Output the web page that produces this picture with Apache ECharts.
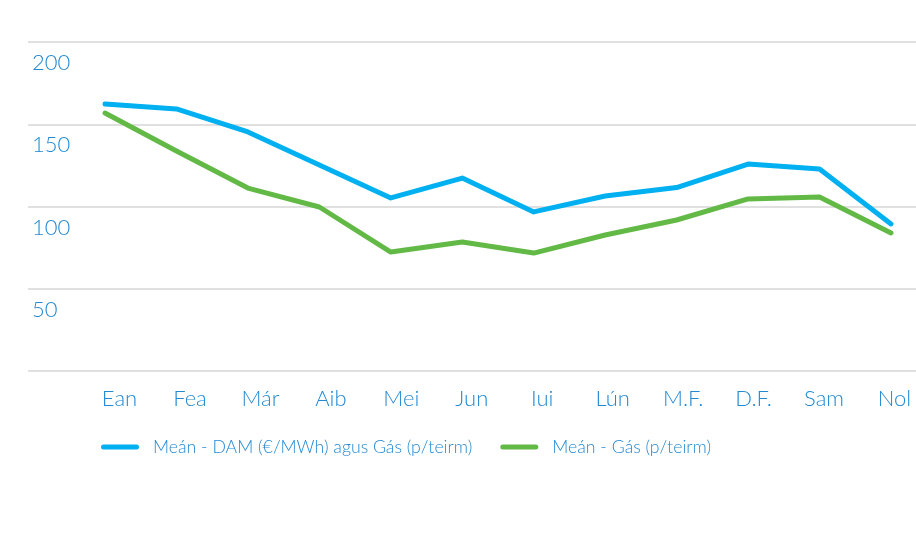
<!DOCTYPE html>
<html>
<head>
<meta charset="utf-8">
<script src="https://cdn.jsdelivr.net/npm/echarts@6/dist/echarts.min.js"></script>
<style>
html,body{margin:0;padding:0;background:#fff;}
#chart{width:916px;height:533px;}
</style>
</head>
<body>
<div id="chart"></div>
<script>
// Data
const months = ['Ean','Fea','Már','Aib','Mei','Jun','Iui','Lún','M.F.','D.F.','Sam','Nol'];
const seriesNames = ['Meán - DAM (€/MWh) agus Gás (p/teirm)', 'Meán - Gás (p/teirm)'];
const damValues = [162.3, 159.3, 145.3, 125.2, 105.2, 117.3, 96.7, 106.4, 111.5, 125.8, 122.8, 89.4];
const gasValues = [156.8, 133.7, 111.2, 99.7, 72.3, 78.4, 71.7, 82.7, 91.8, 104.6, 105.8, 83.9];
const yTicks = [0, 50, 100, 150, 200];

const labelColor = '#2289d2';
const fontFamily = 'Lato, "Liberation Sans", sans-serif';

const chart = echarts.init(document.getElementById('chart'), null, {renderer: 'canvas'});
chart.setOption({
  animation: false,
  backgroundColor: '#ffffff',
  grid: [
    {left: 28, right: 0, top: 42, bottom: 162},
    {left: 105, right: 25, top: 42, bottom: 162},
    {left: 119.5, right: 21.5, top: 42, bottom: 162}
  ],
  xAxis: [
    {gridIndex: 0, type: 'value', show: false, min: 0, max: 1},
    {gridIndex: 1, type: 'category', data: months, boundaryGap: false, show: false},
    {gridIndex: 2, type: 'category', data: months, boundaryGap: false,
     axisLine: {show: false}, axisTick: {show: false},
     axisLabel: {color: labelColor, fontFamily: fontFamily, fontSize: 22, fontWeight: 300, margin: 16, lineHeight: 23, interval: 0}}
  ],
  yAxis: [
    {gridIndex: 0, type: 'value', min: yTicks[0], max: yTicks[yTicks.length - 1], interval: 50,
     axisLine: {show: false}, axisTick: {show: false},
     splitLine: {show: true, lineStyle: {color: '#d6d6d6', width: 1.5}},
     axisLabel: {inside: true, margin: 4, align: 'left', verticalAlign: 'top', lineHeight: 22,
       padding: [10, 0, 0, 0],
       color: labelColor, fontFamily: fontFamily, fontSize: 22, fontWeight: 300,
       formatter: function (v) { return v === 0 ? '' : String(v); }}},
    {gridIndex: 1, type: 'value', min: yTicks[0], max: yTicks[yTicks.length - 1], interval: 50, show: false, splitLine: {show: false}},
    {gridIndex: 2, type: 'value', min: yTicks[0], max: yTicks[yTicks.length - 1], interval: 50, show: false, splitLine: {show: false}}
  ],
  legend: {
    left: 96, top: 433,
    itemWidth: 38, itemHeight: 5, itemGap: 28,
    icon: 'path://M2.5,0 H35.5 A2.5,2.5 0 0 1 35.5,5 H2.5 A2.5,2.5 0 0 1 2.5,0 Z',
    itemStyle: {borderWidth: 0},
    textStyle: {color: labelColor, fontFamily: fontFamily, fontSize: 17.7, fontWeight: 300, lineHeight: 17, padding: [0, 0, 0, 9]},
    data: seriesNames
  },
  series: [
    {name: seriesNames[0], type: 'line', xAxisIndex: 1, yAxisIndex: 1, data: damValues,
     color: '#00b0f0', symbol: 'none', lineStyle: {width: 5, color: '#00b0f0', cap: 'round', join: 'round'}},
    {name: seriesNames[1], type: 'line', xAxisIndex: 1, yAxisIndex: 1, data: gasValues,
     color: '#62b946', symbol: 'none', lineStyle: {width: 5, color: '#62b946', cap: 'round', join: 'round'}}
  ]
});
</script>
</body>
</html>
